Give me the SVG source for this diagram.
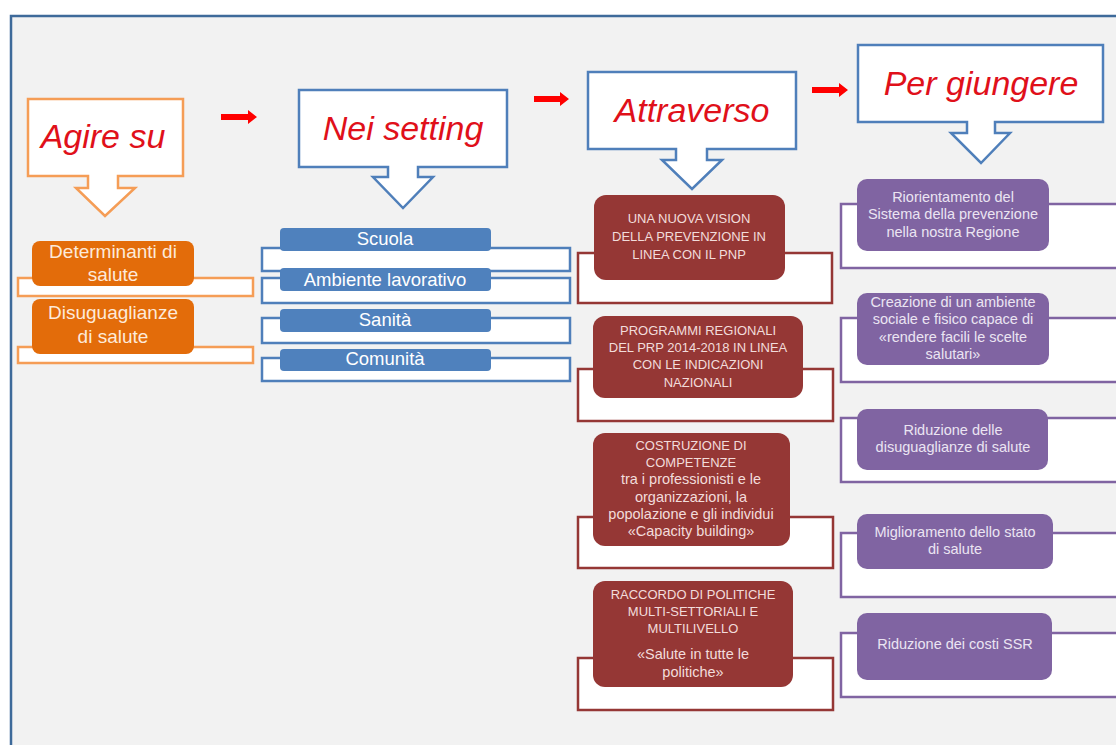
<svg xmlns="http://www.w3.org/2000/svg" width="1116" height="745" viewBox="0 0 1116 745">
<style>
.title{font-family:"Liberation Sans",Arial,sans-serif;font-style:italic;font-size:34px;fill:#e0101a;text-anchor:middle}
.co-o{fill:#fff;stroke:#f59d56;stroke-width:2.5}
.co-b{fill:#fff;stroke:#4f7fba;stroke-width:2.5}
.br-o{fill:#fff;stroke:#f59d56;stroke-width:2.5}
.br-b{fill:#fff;stroke:#4f7fba;stroke-width:2.5}
.br-r{fill:#fff;stroke:#953735;stroke-width:2.5}
.br-p{fill:#fff;stroke:#8064a2;stroke-width:2.5}
.n-o{fill:#e36c0a}
.n-b{fill:#4f81bd}
.n-r{fill:#953735}
.n-p{fill:#8064a2}
.t{font-family:"Liberation Sans",Arial,sans-serif;text-anchor:middle}
.to{fill:#fdeada;font-size:19px}
.tb{fill:#ffffff;font-size:18.5px}
.tr{fill:#f2dcdb;font-size:13px}
.trl{fill:#f2dcdb;font-size:14.5px}
.tp{fill:#ebe4f2;font-size:14.5px}
.ra{fill:#ff0000}
</style>
<rect x="0" y="0" width="1116" height="745" fill="#ffffff"/>
<rect x="11" y="16" width="1130" height="745" fill="#f2f2f2" stroke="#3e6a9a" stroke-width="2.5"/>

<g id="connectors">
  <path class="ra" d="M221,114 H248 V110 L257,117 L248,124 V120 H221 Z"/>
  <path class="ra" d="M534,96 H560 V92 L569,99 L560,106 V102 H534 Z"/>
  <path class="ra" d="M812,87 H839 V83 L848,90 L839,97 V93 H812 Z"/>
</g>

<g id="agire-su">
  <path class="co-o" d="M28,99 H183 V176 H118 V188 H135 L105,216 L76,188 H88 V176 H28 Z"/>
  <text class="title" x="103" y="148">Agire su</text>
</g>
<g id="nei-setting">
  <path class="co-b" d="M299,90 H507 V167 H418 V177 H433 L403,208 L373,177 H388 V167 H299 Z"/>
  <text class="title" x="403" y="140">Nei setting</text>
</g>
<g id="attraverso">
  <path class="co-b" d="M588,72 H796 V149 H707 V160 H722 L692,189 L662,160 H676 V149 H588 Z"/>
  <text class="title" x="692" y="122">Attraverso</text>
</g>
<g id="per-giungere">
  <path class="co-b" d="M858,45 H1103 V122 H995 V133 H1010 L981,163 L951,133 H967 V122 H858 Z"/>
  <text class="title" x="981" y="95">Per giungere</text>
</g>

<g id="determinanti">
  <rect class="br-o" x="18" y="278" width="235" height="18"/>
  <rect class="n-o" x="32" y="241" width="162" height="45" rx="8"/>
  <text class="t to" x="113" y="258">Determinanti di</text>
  <text class="t to" x="113" y="281">salute</text>
</g>
<g id="disuguaglianze">
  <rect class="br-o" x="18" y="347" width="235" height="16"/>
  <rect class="n-o" x="32" y="299" width="162" height="55" rx="8"/>
  <text class="t to" x="113" y="319">Disuguaglianze</text>
  <text class="t to" x="113" y="343">di salute</text>
</g>

<g id="scuola">
  <rect class="br-b" x="262" y="248" width="308" height="23"/>
  <rect class="n-b" x="280" y="228" width="211" height="23" rx="4"/>
  <text class="t tb" x="385" y="245">Scuola</text>
</g>
<g id="ambiente">
  <rect class="br-b" x="262" y="278" width="308" height="25"/>
  <rect class="n-b" x="280" y="268" width="211" height="23" rx="4"/>
  <text class="t tb" x="385" y="286">Ambiente lavorativo</text>
</g>
<g id="sanita">
  <rect class="br-b" x="262" y="318" width="308" height="25"/>
  <rect class="n-b" x="280" y="309" width="211" height="23" rx="4"/>
  <text class="t tb" x="385" y="326">Sanità</text>
</g>
<g id="comunita">
  <rect class="br-b" x="262" y="358" width="308" height="23"/>
  <rect class="n-b" x="280" y="349" width="211" height="22" rx="4"/>
  <text class="t tb" x="385" y="365">Comunità</text>
</g>

<g id="vision">
  <rect class="br-r" x="578" y="253" width="254" height="50"/>
  <rect class="n-r" x="594" y="195" width="191" height="85" rx="12"/>
  <text class="t tr" x="689" y="223">UNA NUOVA VISION</text>
  <text class="t tr" x="689" y="241">DELLA PREVENZIONE IN</text>
  <text class="t tr" x="689" y="259">LINEA CON IL PNP</text>
</g>
<g id="programmi">
  <rect class="br-r" x="578" y="369" width="255" height="52"/>
  <rect class="n-r" x="593" y="316" width="210" height="82" rx="12"/>
  <text class="t tr" x="698" y="335">PROGRAMMI REGIONALI</text>
  <text class="t tr" x="698" y="352">DEL PRP 2014-2018 IN LINEA</text>
  <text class="t tr" x="698" y="369">CON LE INDICAZIONI</text>
  <text class="t tr" x="698" y="387">NAZIONALI</text>
</g>
<g id="competenze">
  <rect class="br-r" x="578" y="517" width="255" height="51"/>
  <rect class="n-r" x="593" y="433" width="197" height="113" rx="12"/>
  <text class="t tr" x="691" y="450">COSTRUZIONE  DI</text>
  <text class="t tr" x="691" y="467">COMPETENZE</text>
  <text class="t trl" x="691" y="484">tra i professionisti e le</text>
  <text class="t trl" x="691" y="502">organizzazioni, la</text>
  <text class="t trl" x="691" y="519">popolazione e gli individui</text>
  <text class="t trl" x="691" y="536">«Capacity building»</text>
</g>
<g id="raccordo">
  <rect class="br-r" x="578" y="658" width="255" height="52"/>
  <rect class="n-r" x="593" y="581" width="200" height="106" rx="12"/>
  <text class="t tr" x="693" y="599">RACCORDO DI POLITICHE</text>
  <text class="t tr" x="693" y="616">MULTI-SETTORIALI E</text>
  <text class="t tr" x="693" y="633">MULTILIVELLO</text>
  <text class="t trl" x="693" y="659">«Salute in tutte le</text>
  <text class="t trl" x="693" y="677">politiche»</text>
</g>

<g id="riorientamento">
  <rect class="br-p" x="841" y="204" width="300" height="64"/>
  <rect class="n-p" x="857" y="179" width="192" height="72" rx="10"/>
  <text class="t tp" x="953" y="202">Riorientamento del</text>
  <text class="t tp" x="953" y="219">Sistema della prevenzione</text>
  <text class="t tp" x="953" y="237">nella nostra Regione</text>
</g>
<g id="creazione">
  <rect class="br-p" x="841" y="318" width="300" height="64"/>
  <rect class="n-p" x="857" y="293" width="192" height="72" rx="10"/>
  <text class="t tp" x="953" y="307">Creazione di un ambiente</text>
  <text class="t tp" x="953" y="324">sociale e fisico capace di</text>
  <text class="t tp" x="953" y="342">«rendere facili le scelte</text>
  <text class="t tp" x="953" y="359">salutari»</text>
</g>
<g id="riduzione-disuguaglianze">
  <rect class="br-p" x="841" y="418" width="300" height="64"/>
  <rect class="n-p" x="857" y="409" width="191" height="61" rx="10"/>
  <text class="t tp" x="953" y="435">Riduzione delle</text>
  <text class="t tp" x="953" y="452">disuguaglianze di salute</text>
</g>
<g id="miglioramento">
  <rect class="br-p" x="841" y="533" width="300" height="64"/>
  <rect class="n-p" x="857" y="514" width="196" height="55" rx="10"/>
  <text class="t tp" x="955" y="537">Miglioramento dello stato</text>
  <text class="t tp" x="955" y="554">di salute</text>
</g>
<g id="riduzione-costi">
  <rect class="br-p" x="841" y="633" width="300" height="64"/>
  <rect class="n-p" x="857" y="613" width="195" height="67" rx="10"/>
  <text class="t tp" x="955" y="649">Riduzione dei costi SSR</text>
</g>
</svg>
